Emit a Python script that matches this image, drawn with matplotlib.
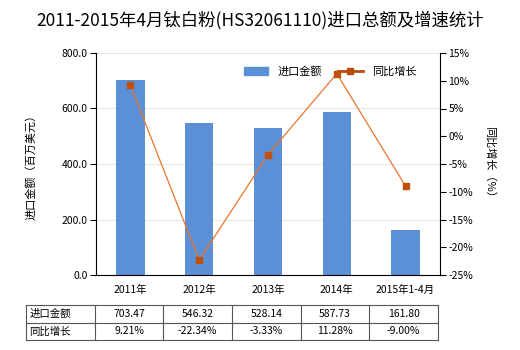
import numpy as np
import matplotlib
matplotlib.use("Agg")
import matplotlib.pyplot as plt
from matplotlib.patches import Patch
from matplotlib.lines import Line2D

plt.rcParams['font.family'] = ['Noto Sans CJK SC', 'DejaVu Sans']

# 数据
categories = ['2011年', '2012年', '2013年', '2014年', '2015年1-4月']
import_value = [703.47, 546.32, 528.14, 587.73, 161.80]
growth = [9.21, -22.34, -3.33, 11.28, -9.00]
row_labels = ['进口金额', '同比增长']

bar_color = '#5b8fd6'
line_color = '#e8772e'
marker_color = '#c0500e'

W, H = 520, 350
fig = plt.figure(figsize=(W / 100, H / 100), dpi=100)
ax = fig.add_axes([96 / W, 1 - 275 / H, 344 / W, 222 / H])

x = np.arange(len(categories))
ax.bar(x, import_value, width=0.41, color=bar_color, zorder=2)
ax.set_xlim(-0.5, len(categories) - 0.5)
ax.set_ylim(0, 800)
ax.set_yticks(np.arange(0, 801, 200))
ax.set_yticklabels([f'{v:.1f}' for v in np.arange(0, 801, 200)], fontsize=7.5)
ax.set_xticks(x)
ax.set_xticklabels(categories, fontsize=7.5)
ax.tick_params(axis='x', length=0, pad=7)
ax.tick_params(axis='y', length=4, pad=2)
ax.yaxis.grid(True, color='#ece9dc', lw=0.8, zorder=0)
for s in ['top', 'right']:
    ax.spines[s].set_visible(False)
ax.set_ylabel('进口金额（百万美元）', fontsize=8, labelpad=18)

ax2 = ax.twinx()
ax2.plot(x, growth, color=line_color, lw=0.9, zorder=3)
ax2.plot(x, growth, ls='none', marker='s', ms=4.5, color=marker_color, zorder=4)
ax2.set_ylim(-25, 15)
ax2.set_yticks(np.arange(-25, 16, 5))
ax2.set_yticklabels([f'{v}%' for v in np.arange(-25, 16, 5)], fontsize=7.5)
ax2.tick_params(axis='y', length=4, pad=2)
for s in ['top', 'left', 'bottom']:
    ax2.spines[s].set_visible(False)
ax2.set_ylabel('同比增长（%）', fontsize=8, rotation=270, labelpad=16)

handles = [Patch(color=bar_color, label='进口金额'),
           Line2D([0], [0], color='#b84a0a', lw=2, marker='s', ms=4,
                  markerfacecolor='#b84a0a', label='同比增长')]
ax.legend(handles=handles, loc='center', bbox_to_anchor=(0.68, 0.915), ncol=2,
          frameon=False, fontsize=8, handlelength=2.2, columnspacing=1.5)

fig.suptitle('2011-2015年4月钛白粉(HS32061110)进口总额及增速统计', fontsize=12.5, y=0.968)

# 表格
tx = fig.add_axes([26 / W, 1 - 340 / H, 412 / W, 35 / H])
tx.set_xlim(-1.5, len(categories) - 0.5)
tx.set_ylim(0, 2)
tx.axis('off')
for yy in [0, 1, 2]:
    tx.plot([-1.5, len(categories) - 0.5], [yy, yy], color='#555555', lw=0.8, clip_on=False)
for xx in np.arange(-1.5, len(categories), 1.0):
    tx.plot([xx, xx], [0, 2], color='#555555', lw=0.8, clip_on=False)
tx.text(-1.45, 1.5, row_labels[0], ha='left', va='center', fontsize=7.5)
tx.text(-1.45, 0.5, row_labels[1], ha='left', va='center', fontsize=7.5)
for i in range(len(categories)):
    tx.text(i, 1.5, f'{import_value[i]:.2f}', ha='center', va='center', fontsize=7.5)
    tx.text(i, 0.5, f'{growth[i]:.2f}%', ha='center', va='center', fontsize=7.5)

fig.savefig('out.png', dpi=100)
